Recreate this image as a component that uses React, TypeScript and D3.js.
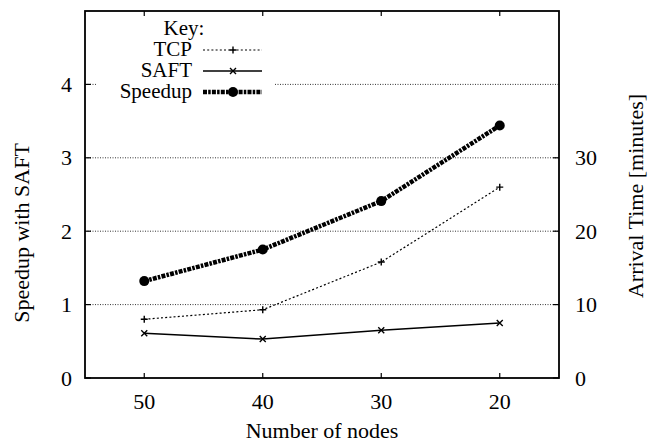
import React from "react";
import * as d3 from "d3";

const nodes = [50, 40, 30, 20];
const speedup = [1.32, 1.75, 2.41, 3.44];
const tcpMinutes = [8.0, 9.3, 15.8, 26.0];
const saftMinutes = [6.1, 5.3, 6.5, 7.5];
const leftTicks = [0, 1, 2, 3, 4];
const rightTicks = [0, 10, 20, 30];
const xTicks = [50, 40, 30, 20];
const legendLabels = ["TCP", "SAFT", "Speedup"];

const W = 667, H = 443;
const L = 85, R = 559, T = 11, B = 378;
const FONT = "Liberation Serif, Times New Roman, serif";
const FS = 22;
const LFS = 21;

export default function App() {
  const x = d3.scaleLinear().domain([55, 15]).range([L, R]);
  const y = d3.scaleLinear().domain([0, 5]).range([B, T]);
  const y2 = d3.scaleLinear().domain([0, 50]).range([B, T]);
  const line = d3.line<[number, number]>().x(d => d[0]).y(d => d[1]);

  const spPts: [number, number][] = nodes.map((n, i) => [x(n), y(speedup[i])]);
  const tcpPts: [number, number][] = nodes.map((n, i) => [x(n), y2(tcpMinutes[i])]);
  const saftPts: [number, number][] = nodes.map((n, i) => [x(n), y2(saftMinutes[i])]);

  const plus = (cx: number, cy: number, s = 3.5, k?: any) => (
    <path key={k} d={`M${cx - s},${cy}H${cx + s}M${cx},${cy - s}V${cy + s}`} stroke="#000" strokeWidth={1.4} />
  );
  const cross = (cx: number, cy: number, s = 3, k?: any) => (
    <path key={k} d={`M${cx - s},${cy - s}L${cx + s},${cy + s}M${cx - s},${cy + s}L${cx + s},${cy - s}`} stroke="#000" strokeWidth={1.4} />
  );
  const dot = (cx: number, cy: number, k?: any) => <circle key={k} cx={cx} cy={cy} r={5} fill="#000" />;

  const spDash = "4,1.2,2.5,1.2";
  const tcpDash = "2,2.2";
  const legX1 = 203, legX2 = 262, legM = 233;
  const rows = [50, 71, 92];
  const ts = { fontFamily: FONT } as React.CSSProperties;
  const grid = "1,1.5";

  return (
    <svg width={W} height={H} style={{ position: "absolute", left: 0, top: 0, background: "#fff", fontFamily: FONT }}>
      <rect x={0} y={0} width={W} height={H} fill="#fff" />
      {leftTicks.filter(t => t > 0).map(t => (
        t === 4 ? (
          <g key={t}>
            <line x1={L} x2={97} y1={y(t)} y2={y(t)} stroke="#000" strokeWidth={0.8} strokeDasharray={grid} />
            <line x1={275} x2={R} y1={y(t)} y2={y(t)} stroke="#000" strokeWidth={0.8} strokeDasharray={grid} />
          </g>
        ) : (
          <line key={t} x1={L} x2={R} y1={y(t)} y2={y(t)} stroke="#000" strokeWidth={0.8} strokeDasharray={grid} />
        )
      ))}
      {leftTicks.map(t => <line key={"lt" + t} x1={L} x2={L + 6} y1={y(t)} y2={y(t)} stroke="#000" strokeWidth={1.2} />)}
      {rightTicks.map(t => <line key={"rt" + t} x1={R - 6} x2={R} y1={y2(t)} y2={y2(t)} stroke="#000" strokeWidth={1.2} />)}
      {xTicks.map(t => (
        <g key={"xt" + t}>
          <line x1={x(t)} x2={x(t)} y1={B} y2={B - 5} stroke="#000" strokeWidth={1.2} />
          <line x1={x(t)} x2={x(t)} y1={T} y2={T + 5} stroke="#000" strokeWidth={1.2} />
        </g>
      ))}
      <rect x={L} y={T} width={R - L} height={B - T} fill="none" stroke="#000" strokeWidth={1.8} />
      {leftTicks.map(t => (
        <text key={"ll" + t} style={ts} x={72} y={y(t) + 7.5} textAnchor="end" fontSize={FS}>{t}</text>
      ))}
      {rightTicks.map(t => (
        <text key={"rl" + t} style={ts} x={575} y={y2(t) + 7.5} textAnchor="start" fontSize={FS}>{t}</text>
      ))}
      {xTicks.map(t => (
        <text key={"xl" + t} style={ts} x={x(t)} y={409} textAnchor="middle" fontSize={FS}>{t}</text>
      ))}
      <text style={ts} x={322} y={438} textAnchor="middle" fontSize={FS}>Number of nodes</text>
      <text style={ts} transform={`translate(29,233) rotate(-90)`} textAnchor="middle" fontSize={FS}>Speedup with SAFT</text>
      <text style={ts} transform={`translate(643,196) rotate(-90)`} textAnchor="middle" fontSize={FS}>Arrival Time [minutes]</text>
      <path d={line(tcpPts) || ""} fill="none" stroke="#000" strokeWidth={1.2} strokeDasharray={tcpDash} />
      {tcpPts.map((p, i) => plus(p[0], p[1], 3.5, "tp" + i))}
      <path d={line(saftPts) || ""} fill="none" stroke="#000" strokeWidth={1.5} />
      {saftPts.map((p, i) => cross(p[0], p[1], 3, "sp" + i))}
      <path d={line(spPts) || ""} fill="none" stroke="#000" strokeWidth={4.5} strokeDasharray={spDash} />
      {spPts.map((p, i) => dot(p[0], p[1], "dp" + i))}
      <text style={ts} x={184} y={35} textAnchor="middle" fontSize={LFS}>Key:</text>
      {legendLabels.map((lab, i) => (
        <text key={lab} style={ts} x={192} y={rows[i] + 6} textAnchor="end" fontSize={LFS}>{lab}</text>
      ))}
      <line x1={legX1} x2={legX2} y1={rows[0]} y2={rows[0]} stroke="#000" strokeWidth={1.2} strokeDasharray={tcpDash} />
      {plus(legM, rows[0])}
      <line x1={legX1} x2={legX2} y1={rows[1]} y2={rows[1]} stroke="#000" strokeWidth={1.5} />
      {cross(legM, rows[1])}
      <line x1={legX1} x2={legX2} y1={rows[2]} y2={rows[2]} stroke="#000" strokeWidth={4.5} strokeDasharray={spDash} />
      {dot(legM, rows[2])}
    </svg>
  );
}
